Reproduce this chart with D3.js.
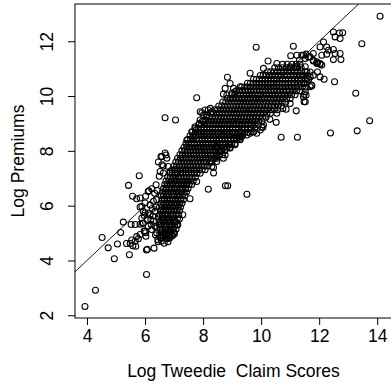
<!DOCTYPE html>
<html>
<head>
<meta charset="utf-8">
<script src="https://cdn.jsdelivr.net/npm/d3@7"></script>
<style>
  body { margin: 0; background: #fff; }
  text { font-family: "Liberation Sans", Arial, Helvetica, sans-serif; fill: #000; }
</style>
</head>
<body>
<div id="chart"></div>
<script>
// tick values on both axes
var xTicks = [4, 6, 8, 10, 12, 14];
var yTicks = [2, 4, 6, 8, 10, 12];

// sparse low-score tail and the scatter round the lower cluster
var lowTail = [
  [3.93,2.32],[4.29,2.91],[4.52,4.84],[4.73,4.46],[4.94,4.06],[5.05,4.6],[5.16,5.02],[5.25,5.4],
  [5.43,6.74],[5.46,4.21],[5.36,4.62],[5.49,4.62],[5.54,4.75],[5.58,4.54],[5.68,4.52],[5.66,4.7],
  [5.71,4.87],[5.57,6.34],[5.71,6.25],[5.83,6.28],[5.66,5.31],[5.52,5.31],[5.83,5.32],[5.94,5.37],
  [5.8,7.09],[5.83,5.95],[5.91,5.35],[5.97,5.07],[6.02,5.01],[6.02,6.34],[6.05,4.38],[6.05,3.49],
  [6.13,6.54],[6.31,4.45],[6.23,6.62],[6.11,5.73],[6.2,5.49],[5.97,5.64],[6.29,6.16],[6.34,5.25],
  [6.4,5.0],[6.44,4.76],[6.4,6.22],[6.46,7.59],[6.55,7.79],[6.63,7.19],[6.49,7.07],[6.38,6.76],
  [5.89,5.97],[6.0,6.1],[6.11,6.52],[6.03,4.88],[6.08,4.41],[5.83,4.95],[5.77,4.79],[6.0,5.07],
  [6.17,5.67],[6.08,5.49],[6.29,5.43],[6.34,5.79],[6.46,5.61],[6.0,5.73],[5.89,5.55],[5.94,5.79],
  [6.23,5.13],[6.4,5.19],[6.11,5.25],[6.52,4.83],[6.63,4.88],[6.75,4.79],[6.86,4.83],[6.69,4.95],
  [6.58,7.79],[6.72,7.85],[6.52,7.25],[6.63,7.45],[6.69,7.92],[6.75,7.73],[6.58,7.49],[6.8,7.43],
  [6.86,7.25],[6.69,9.21],[7.05,9.13],[6.25,5.9],[6.33,6.45],[6.18,6.02],[6.42,6.55],[6.36,4.93],
  [6.45,4.68],[6.27,5.62],[6.38,5.95],[6.21,5.31],[6.57,4.71],[6.79,4.68],[6.93,4.9],[7.01,4.97],
  [6.66,4.63],[6.9,5.09],[7.13,5.3],[7.19,5.52]
];

// points along the edges of the main band
var bandEdge = [
  [7.55,6.25],[7.3,5.67],[8.18,6.6],[8.77,6.73],[8.85,6.73],[9.51,6.42],[7.78,6.88],[8.3,7.43],
  [8.36,7.19],[8.26,7.64],[8.36,7.39],[8.76,7.85],[8.47,7.61],
  [7.78,9.94],[8.07,9.49],[8.25,9.55],[7.96,9.39],[8.3,9.43],[8.13,9.31],[7.87,9.0],[8.01,9.07],
  [7.76,8.76],[7.67,8.52],[7.44,8.4],[7.61,8.7],[7.72,8.88],[7.9,9.13],[8.01,9.31],[8.18,9.49],[7.9,9.43],
  [8.84,10.69],[8.93,10.46],[8.76,10.28],[9.05,10.28],[8.7,10.07],[8.82,10.04],[8.99,10.1],[9.1,10.16],
  [9.28,10.34],[9.62,10.83],[10.08,11.01],[10.54,11.19],[11.0,11.07],[11.23,11.07],[11.58,10.88],[11.69,10.7],
  [9.1,8.22],[8.93,8.1],[8.7,7.73],[9.28,8.52],[9.62,8.64],[9.97,8.76],[10.08,8.95],[9.79,8.83],
  [8.47,7.79],[8.59,7.98],[8.93,8.22],[9.05,8.46],[9.28,8.46],[9.51,8.58],[9.74,8.7],[9.28,8.7],
  [8.47,8.16],[8.76,8.04],[10.54,9.37],[11.0,9.73],[10.3,9.15],[10.75,9.55],
  [11.46,11.49],[11.63,11.43],[11.8,11.31],[11.92,11.19],[12.09,11.13],[11.52,11.07],[11.69,10.88],
  [11.8,10.76],[11.58,10.64],[11.46,10.46],[11.69,10.34],[11.52,10.16],[11.46,9.97],[11.52,9.79],
  [11.48,9.79],[11.55,10.04],[11.73,10.4],[11.94,10.88],[12.03,10.7],[11.48,10.06],[11.55,10.32],[11.75,10.38]
];

// high scores: upper right cluster and outliers
var highScores = [
  [9.83,11.78],[10.24,11.28],[11.11,11.82],[11.02,11.47],[11.23,11.49],[11.4,11.49],[11.55,11.53],
  [11.69,11.43],[11.8,11.28],[11.94,11.21],[12.03,11.16],[11.32,11.31],[11.52,11.37],
  [12.49,12.34],[12.7,12.3],[12.81,12.31],[12.55,12.16],[12.72,12.1],[12.15,11.97],[12.03,11.79],
  [12.26,11.79],[12.32,11.67],[12.49,11.7],[12.55,11.55],[12.72,11.55],[12.26,11.53],[12.49,11.33],
  [12.75,11.33],[12.09,11.49],[11.8,11.55],[11.92,11.25],[12.03,11.19],
  [12.17,10.61],[12.53,10.52],[14.1,12.91],[13.47,11.91],[13.26,10.1],[13.74,9.1],[13.31,8.73],
  [12.39,8.65],[11.25,8.5],[10.69,8.5],[10.52,9.04],[11.21,9.46],[10.86,9.52],[10.06,8.86],
  [9.73,8.7],[9.85,8.64],[10.02,8.85]
];

// dense core, one row per premium level: [premium, claim scores]
var coreRows = [
  [4.81, [6.56,6.7,6.81]],
  [4.92, [6.5,6.62,6.71,6.83,6.95]],
  [5.03, [6.57,6.66,6.77,6.88,7.0]],
  [5.15, [6.52,6.6,6.71,6.79,6.88,6.97,7.07]],
  [5.29, [6.49,6.56,6.66,6.74,6.85,6.92,7.02,7.1]],
  [5.41, [6.53,6.62,6.69,6.8,6.87,6.98,7.06]],
  [5.55, [6.47,6.58,6.65,6.76,6.83,6.93,7.01,7.12]],
  [5.68, [6.51,6.6,6.7,6.78,6.89,6.96,7.07,7.16]],
  [5.82, [6.54,6.63,6.72,6.81,6.9,7.0,7.09,7.19]],
  [5.95, [6.5,6.59,6.68,6.76,6.86,6.95,7.04,7.14,7.22]],
  [6.09, [6.55,6.64,6.73,6.83,6.91,7.02,7.1,7.19,7.27]],
  [6.22, [6.58,6.67,6.77,6.85,6.96,7.05,7.13,7.23,7.32]],
  [6.36, [6.56,6.63,6.74,6.82,6.93,7.0,7.11,7.19,7.29,7.37]],
  [6.5, [6.6,6.7,6.79,6.89,6.97,7.08,7.16,7.26,7.35,7.43]],
  [6.63, [6.64,6.73,6.83,6.92,7.02,7.1,7.2,7.29,7.4,7.48]],
  [6.77, [6.68,6.77,6.87,6.95,7.06,7.14,7.25,7.33,7.43,7.52,7.61]],
  [6.9, [6.72,6.82,6.9,7.01,7.09,7.19,7.28,7.38,7.46,7.57,7.66]],
  [7.04, [6.78,6.87,6.97,7.05,7.16,7.24,7.34,7.43,7.53,7.62,7.73]],
  [7.18, [6.85,6.93,7.04,7.12,7.22,7.31,7.41,7.5,7.6,7.7,7.79,7.9]],
  [7.31, [6.93,7.02,7.1,7.2,7.3,7.39,7.49,7.58,7.68,7.77,7.88,7.97,8.07]],
  [7.45, [7.0,7.09,7.18,7.28,7.37,7.47,7.56,7.66,7.76,7.85,7.95,8.04,8.15]],
  [7.59, [7.06,7.15,7.25,7.34,7.44,7.54,7.63,7.73,7.83,7.92,8.02,8.12,8.22,8.31]],
  [7.73, [7.12,7.22,7.31,7.41,7.51,7.6,7.7,7.8,7.9,7.99,8.09,8.19,8.29,8.39,8.48]],
  [7.86, [7.2,7.29,7.39,7.48,7.58,7.68,7.77,7.87,7.97,8.07,8.16,8.26,8.36,8.46,8.57,8.67]],
  [8.0, [7.27,7.37,7.46,7.56,7.66,7.75,7.85,7.95,8.05,8.14,8.24,8.34,8.44,8.54,8.64,8.75]],
  [8.13, [7.34,7.44,7.53,7.63,7.73,7.83,7.92,8.02,8.12,8.22,8.32,8.41,8.51,8.61,8.71,8.82,8.93]],
  [8.27, [7.41,7.5,7.6,7.7,7.8,7.9,7.99,8.09,8.19,8.29,8.39,8.48,8.58,8.68,8.78,8.88,8.99,9.1]],
  [8.41, [7.47,7.57,7.67,7.77,7.87,7.97,8.06,8.16,8.26,8.36,8.46,8.56,8.65,8.75,8.85,8.95,9.06,9.17,9.28]],
  [8.55, [7.55,7.65,7.75,7.84,7.94,8.04,8.14,8.24,8.34,8.44,8.53,8.63,8.73,8.83,8.93,9.03,9.14,9.25,9.36]],
  [8.68, [7.63,7.73,7.83,7.93,8.02,8.12,8.22,8.32,8.42,8.52,8.62,8.72,8.82,8.91,9.01,9.11,9.22,9.33,9.44,9.55]],
  [8.82, [7.73,7.83,7.93,8.03,8.13,8.23,8.33,8.42,8.52,8.62,8.72,8.82,8.92,9.02,9.12,9.22,9.33,9.44,9.55,9.66]],
  [8.96, [7.85,7.95,8.05,8.15,8.25,8.35,8.45,8.55,8.64,8.74,8.84,8.94,9.04,9.14,9.24,9.34,9.45,9.56,9.67,9.79,9.9]],
  [9.09, [7.98,8.08,8.18,8.28,8.38,8.48,8.58,8.68,8.78,8.87,8.97,9.07,9.17,9.27,9.37,9.47,9.58,9.69,9.8,9.91,10.03]],
  [9.23, [8.12,8.22,8.32,8.42,8.52,8.62,8.72,8.82,8.92,9.01,9.11,9.21,9.31,9.41,9.51,9.61,9.72,9.83,9.94,10.05,10.17]],
  [9.37, [8.26,8.36,8.46,8.56,8.66,8.76,8.86,8.96,9.06,9.16,9.25,9.35,9.45,9.55,9.65,9.75,9.86,9.97,10.08,10.2,10.32]],
  [9.5, [8.4,8.5,8.6,8.7,8.8,8.9,9.0,9.1,9.2,9.3,9.39,9.49,9.59,9.69,9.79,9.89,10.0,10.11,10.22,10.34,10.46,10.57]],
  [9.64, [8.54,8.64,8.74,8.84,8.94,9.04,9.14,9.24,9.34,9.44,9.53,9.63,9.73,9.83,9.93,10.03,10.14,10.25,10.36,10.47,10.59,10.7]],
  [9.78, [8.68,8.78,8.88,8.98,9.08,9.18,9.28,9.38,9.48,9.58,9.68,9.77,9.87,9.97,10.07,10.17,10.28,10.39,10.5,10.61,10.73,10.85]],
  [9.91, [8.83,8.93,9.03,9.13,9.23,9.33,9.43,9.53,9.63,9.73,9.83,9.92,10.02,10.12,10.22,10.32,10.43,10.54,10.65,10.76,10.88,11.0]],
  [10.05, [8.99,9.09,9.19,9.29,9.39,9.49,9.59,9.69,9.79,9.89,9.99,10.08,10.18,10.28,10.38,10.48,10.59,10.7,10.81,10.93,11.05,11.17]],
  [10.19, [9.15,9.25,9.35,9.45,9.55,9.65,9.75,9.85,9.95,10.05,10.15,10.25,10.35,10.45,10.55,10.65,10.76,10.87,10.98,11.1,11.22,11.34]],
  [10.33, [9.33,9.43,9.53,9.63,9.73,9.83,9.93,10.03,10.13,10.23,10.33,10.43,10.53,10.63,10.73,10.84,10.95,11.06,11.18,11.3,11.42]],
  [10.47, [9.53,9.63,9.73,9.83,9.93,10.03,10.13,10.23,10.33,10.43,10.53,10.63,10.73,10.83,10.93,11.04,11.15,11.27,11.39,11.51]],
  [10.61, [9.74,9.84,9.94,10.04,10.14,10.24,10.34,10.44,10.54,10.64,10.74,10.84,10.94,11.05,11.16,11.28,11.4,11.52,11.64]],
  [10.75, [9.97,10.07,10.17,10.28,10.38,10.48,10.59,10.69,10.8,10.9,11.01,11.12,11.23,11.35,11.47,11.6]],
  [10.89, [10.22,10.33,10.45,10.56,10.68,10.79,10.91,11.03,11.15,11.27,11.4,11.52]],
  [11.03, [10.47,10.6,10.73,10.86,10.99,11.12,11.25,11.38]],
  [11.16, [10.74,10.9,11.06,11.21,11.34]]
];

// flatten everything into one list of {score, premium}
var data = [];
coreRows.forEach(function(r){
  r[1].forEach(function(s){ data.push({score: s, premium: r[0]}); });
});
lowTail.concat(bandEdge, highScores).forEach(function(p){
  data.push({score: p[0], premium: p[1]});
});

var svgWidth = 391, svgHeight = 382;
var plot = {left: 75, top: 4, right: 392, bottom: 318};

var svg = d3.select("#chart").append("svg")
  .attr("width", svgWidth)
  .attr("height", svgHeight);

var xScale = d3.scaleLinear().domain([3.586, 14.51]).range([plot.left, plot.right]);
var yScale = d3.scaleLinear().domain([1.9, 13.36]).range([plot.bottom, plot.top]);

svg.append("clipPath").attr("id", "plotClip")
  .append("rect")
  .attr("x", plot.left).attr("y", plot.top)
  .attr("width", plot.right - plot.left).attr("height", plot.bottom - plot.top);

// points
svg.append("g").selectAll("circle")
  .data(data)
  .enter()
  .append("circle")
  .attr("cx", d => xScale(d.score))
  .attr("cy", d => yScale(d.premium))
  .attr("r", 3)
  .attr("fill", "none")
  .attr("stroke", "#000")
  .attr("stroke-width", 1.05);

// 45 degree reference line
svg.append("line")
  .attr("clip-path", "url(#plotClip)")
  .attr("x1", xScale(3.586)).attr("y1", yScale(3.586))
  .attr("x2", xScale(14.51)).attr("y2", yScale(14.51))
  .attr("stroke", "#000")
  .attr("stroke-width", 0.9);

// box round the plot
svg.append("rect")
  .attr("x", plot.left).attr("y", plot.top)
  .attr("width", plot.right - plot.left).attr("height", plot.bottom - plot.top)
  .attr("fill", "none")
  .attr("stroke", "#000")
  .attr("stroke-width", 1);

// x axis
var xAxis = svg.append("g")
  .attr("transform", `translate(0,${plot.bottom})`)
  .call(d3.axisBottom(xScale).tickValues(xTicks).tickSize(7).tickPadding(5).tickFormat(d3.format("d")));
xAxis.select(".domain").remove();
xAxis.selectAll("text").attr("font-size", "17.5px").attr("font-family", null);

// y axis, labels parallel to the axis as in R
var yAxis = svg.append("g")
  .attr("transform", `translate(${plot.left},0)`)
  .call(d3.axisLeft(yScale).tickValues(yTicks).tickSize(7).tickFormat(d3.format("d")));
yAxis.select(".domain").remove();
yAxis.selectAll("text")
  .attr("x", null).attr("dy", null)
  .attr("transform", "translate(-22,0) rotate(-90)")
  .attr("text-anchor", "middle")
  .attr("font-size", "17.5px")
  .attr("font-family", null);

// axis titles
svg.append("text")
  .attr("text-anchor", "middle")
  .attr("x", (plot.left + plot.right) / 2)
  .attr("y", 377)
  .attr("font-size", "17.5px")
  .text("Log Tweedie  Claim Scores")
  .style("white-space", "pre");

svg.append("text")
  .attr("text-anchor", "middle")
  .attr("transform", `translate(24,${(plot.top + plot.bottom) / 2})rotate(-90)`)
  .attr("font-size", "17.5px")
  .text("Log Premiums");
</script>
</body>
</html>
